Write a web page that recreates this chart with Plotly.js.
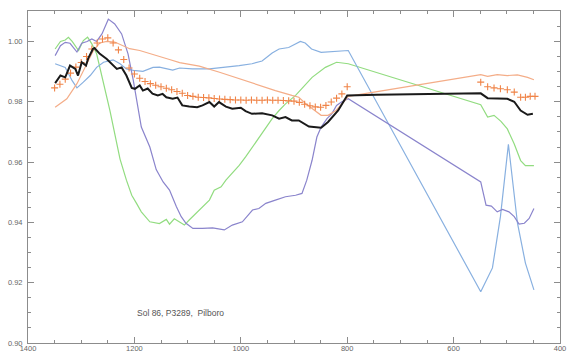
<!DOCTYPE html>
<html><head><meta charset="utf-8">
<script src="https://cdn.plot.ly/plotly-3.0.1.min.js"></script>
<style>html,body{margin:0;padding:0;background:#fff;}#chart{width:568px;height:354px;}</style>
</head><body><div id="chart"></div>
<script>
const blackX = [1349,1339,1330,1321,1311,1306,1299,1291,1287,1278,1275,1265,1252,1240,1233,1224,1215,1205,1199,1190,1184,1175,1166,1156,1147,1140,1128,1119,1110,1097,1082,1072,1059,1050,1041,1028,1016,1000,991,979,960,941,928,916,904,891,872,849,836,817,800,744,680,617,549,536,499,486,474,461,451];
const blackY = [0.9862,0.9887,0.9881,0.9920,0.9909,0.9887,0.9931,0.9920,0.9943,0.9975,0.9978,0.9959,0.9942,0.9920,0.9909,0.9914,0.9887,0.9846,0.9843,0.9854,0.9837,0.9844,0.9827,0.9821,0.9826,0.9815,0.9810,0.9814,0.9788,0.9784,0.9782,0.9788,0.9799,0.9784,0.9799,0.9784,0.9777,0.9780,0.9769,0.9760,0.9762,0.9755,0.9744,0.9749,0.9738,0.9738,0.9718,0.9714,0.9733,0.9771,0.9821,0.9823,0.9824,0.9826,0.9828,0.9812,0.9810,0.9800,0.9771,0.9757,0.9760];

const plusX = [1350,1340,1330,1320,1310,1300,1290,1280,1270,1260,1250,1240,1230,1220,1210,1200,1190,1180,1170,1160,1150,1140,1130,1120,1110,1100,1090,1080,1070,1060,1050,1040,1030,1020,1010,1000,990,980,970,960,950,940,930,920,910,900,890,880,870,860,850,840,830,820,810,800,549,536,524,512,499,486,474,465,456,447];
const plusY = [0.9846,0.9858,0.9875,0.9895,0.9915,0.9930,0.9950,0.9975,0.9995,1.0008,1.0012,0.9995,0.9972,0.9940,0.9912,0.9892,0.9878,0.9867,0.9860,0.9855,0.9850,0.9845,0.9840,0.9834,0.9828,0.9821,0.9818,0.9815,0.9814,0.9813,0.9811,0.9809,0.9808,0.9807,0.9806,0.9806,0.9805,0.9806,0.9805,0.9805,0.9806,0.9805,0.9805,0.9804,0.9803,0.9802,0.9798,0.9792,0.9787,0.9783,0.9782,0.9788,0.9799,0.9812,0.9826,0.9850,0.9865,0.9850,0.9846,0.9843,0.9840,0.9832,0.9815,0.9815,0.9818,0.9818];

const orangeX = [1349,1327,1308,1289,1277,1265,1252,1237,1224,1209,1190,1171,1153,1134,1115,1078,1040,1003,966,935,904,891,879,860,849,836,821,804,798,549,536,518,499,480,461,449];
const orangeY = [0.9782,0.9810,0.9860,0.9926,0.9970,0.9995,1.0000,0.9998,0.9989,0.9976,0.9970,0.9959,0.9950,0.9940,0.9930,0.9918,0.9898,0.9876,0.9854,0.9837,0.9821,0.9815,0.9795,0.9771,0.9755,0.9755,0.9771,0.9805,0.9818,0.9890,0.9884,0.9890,0.9887,0.9889,0.9881,0.9873];

const greenX = [1349,1339,1330,1324,1317,1305,1296,1288,1280,1271,1246,1237,1227,1215,1205,1196,1187,1171,1153,1140,1134,1125,1115,1106,1097,1084,1072,1059,1050,1037,1028,1016,1003,991,978,966,953,941,928,916,897,866,841,820,798,549,536,524,511,499,486,474,465,449];
const greenY = [0.9975,1.0000,1.0005,1.0014,1.0000,0.9970,1.0003,1.0014,0.9992,0.9959,0.9771,0.9694,0.9610,0.9540,0.9490,0.9463,0.9435,0.9402,0.9396,0.9410,0.9394,0.9412,0.9400,0.9391,0.9408,0.9430,0.9452,0.9474,0.9507,0.9518,0.9540,0.9562,0.9589,0.9617,0.9650,0.9683,0.9716,0.9744,0.9771,0.9793,0.9821,0.9881,0.9914,0.9931,0.9926,0.9790,0.9749,0.9755,0.9735,0.9710,0.9660,0.9605,0.9588,0.9588];

const skyX = [1349,1330,1317,1308,1296,1283,1271,1258,1240,1227,1215,1202,1184,1165,1153,1140,1128,1115,1091,1059,1028,1003,979,960,941,928,910,888,879,867,849,823,798,549,527,512,497,480,465,449];
const skyY = [0.9926,0.9914,0.9870,0.9846,0.9865,0.9887,0.9914,0.9931,0.9939,0.9926,0.9909,0.9904,0.9901,0.9914,0.9915,0.9910,0.9905,0.9912,0.9909,0.9909,0.9914,0.9920,0.9926,0.9935,0.9962,0.9975,0.9980,1.0000,0.9995,0.9975,0.9964,0.9967,0.9970,0.9170,0.9249,0.9419,0.9659,0.9398,0.9265,0.9176];

const purpleX = [1349,1339,1330,1321,1308,1299,1289,1280,1271,1261,1249,1237,1224,1212,1202,1196,1187,1171,1159,1146,1134,1121,1112,1103,1090,1072,1053,1031,1016,997,978,966,953,935,916,897,885,876,866,857,849,838,829,820,810,798,549,539,529,518,508,496,486,477,467,458,449];
const purpleY = [0.9953,0.9986,0.9997,0.9994,0.9965,0.9994,1.0000,1.0008,1.0000,1.0025,1.0074,1.0058,1.0025,0.9959,0.9870,0.9805,0.9716,0.9650,0.9575,0.9534,0.9507,0.9452,0.9419,0.9397,0.9380,0.9380,0.9382,0.9375,0.9391,0.9402,0.9441,0.9446,0.9463,0.9474,0.9485,0.9490,0.9496,0.9540,0.9606,0.9683,0.9716,0.9744,0.9760,0.9788,0.9800,0.9810,0.9534,0.9457,0.9454,0.9435,0.9443,0.9435,0.9419,0.9394,0.9397,0.9413,0.9446];

const xTicks = [1400,1200,1000,800,600,400];
const yTicks = [0.90,0.92,0.94,0.96,0.98,1.00];
const label = 'Sol 86, P3289,  Pilboro';

const traces = [
  {x: greenX, y: greenY, mode:'lines', line:{color:'#92dc80', width:1.2}},
  {x: skyX, y: skyY, mode:'lines', line:{color:'#88b0e0', width:1.2}},
  {x: purpleX, y: purpleY, mode:'lines', line:{color:'#8a84cc', width:1.2}},
  {x: orangeX, y: orangeY, mode:'lines', line:{color:'#f4ad88', width:1.2}},
  {x: plusX, y: plusY, mode:'markers', marker:{symbol:'cross-thin-open', size:5, color:'#f08448', line:{color:'#f08448', width:1.1}}},
  {x: blackX, y: blackY, mode:'lines', line:{color:'#1a1a1a', width:2}}
];

const axisCommon = {
  showline:true, mirror:'ticks', linecolor:'#8c8c8c', linewidth:1,
  ticks:'inside', ticklen:6, tickcolor:'#8c8c8c', showgrid:false, zeroline:false,
  tickfont:{family:'Liberation Sans, Arial, sans-serif', size:7.5, color:'#666'}
};

const layout = {
  width:568, height:354,
  margin:{l:28, r:8, t:11, b:11},
  paper_bgcolor:'#fff', plot_bgcolor:'#fff',
  showlegend:false,
  xaxis: Object.assign({}, axisCommon, {
    range:[1400,400], tickvals:xTicks, ticktext:xTicks.map(String), automargin:false,
    ticklabelstandoff:-2,
    minor:{dtick:50, tick0:0, ticks:'inside', ticklen:3, tickcolor:'#8c8c8c'}
  }),
  yaxis: Object.assign({}, axisCommon, {
    range:[0.90,1.0101], tickvals:yTicks, ticktext:yTicks.map(v=>v.toFixed(2)), automargin:false,
    ticklabelstandoff:3,
    minor:{dtick:0.005, tick0:0.9, ticks:'inside', ticklen:3, tickcolor:'#8c8c8c'}
  }),
  annotations:[{x:1199, y:0.910, xref:'x', yref:'y', xanchor:'left', yanchor:'middle', showarrow:false,
    text:label, font:{family:'Liberation Sans, Arial, sans-serif', size:8.5, color:'#555'}}]
};

Plotly.newPlot('chart', traces, layout, {displayModeBar:false, staticPlot:true});
</script></body></html>
